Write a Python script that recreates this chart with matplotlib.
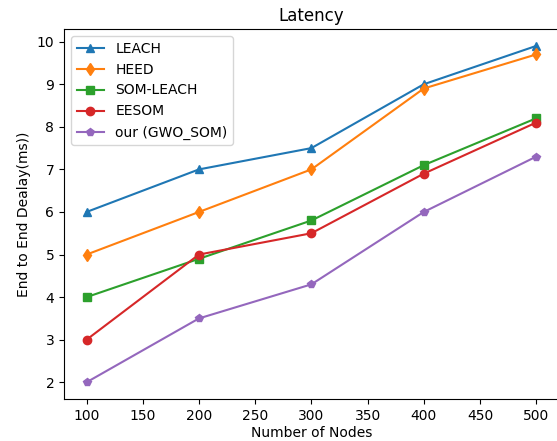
import matplotlib.pyplot as plt

nodes = [100, 200, 300, 400, 500]
leach = [6, 7, 7.5, 9, 9.9]
heed = [5, 6, 7, 8.9, 9.7]
som_leach = [4, 4.9, 5.8, 7.1, 8.2]
eesom = [3, 5, 5.5, 6.9, 8.1]
gwo_som = [2, 3.5, 4.3, 6, 7.3]

fig = plt.figure(figsize=(5.57, 4.41), dpi=100)
ax = fig.add_axes([0.115, 0.095, 0.888, 0.839])
ax.plot(nodes, leach, marker='^', label="LEACH")
ax.plot(nodes, heed, marker='d', label="HEED")
ax.plot(nodes, som_leach, marker='s', label="SOM-LEACH")
ax.plot(nodes, eesom, marker='o', label="EESOM")
ax.plot(nodes, gwo_som, marker='p', label="our (GWO_SOM)")
ax.set_xlabel("Number of Nodes", labelpad=2)
ax.set_ylabel("End to End Dealay(ms))")
ax.set_title("Latency")
ax.legend()
fig.savefig("out.png")
